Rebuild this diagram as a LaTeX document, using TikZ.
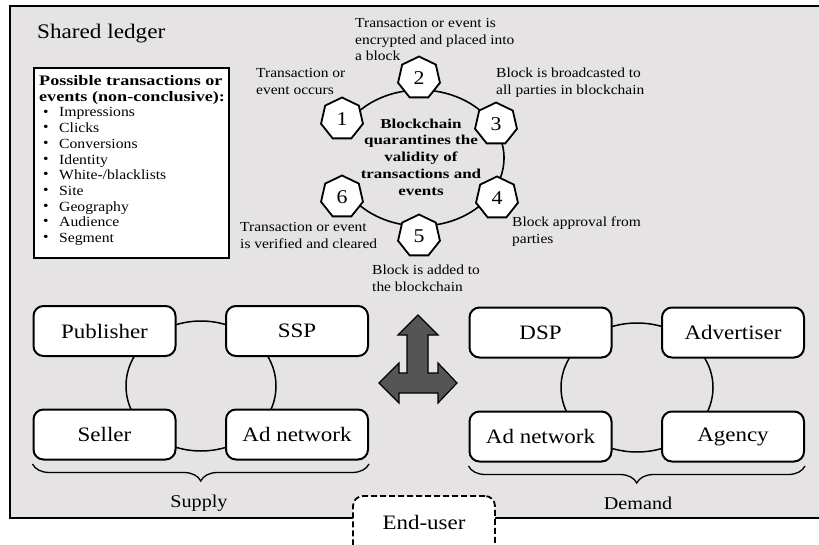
\documentclass[tikz,border=0pt]{standalone}
\usepackage{fontspec}
\setmainfont{Liberation Serif}[FakeStretch=1.12]
\newfontfamily\boldwide{Liberation Serif}[FakeStretch=1.25]
\usetikzlibrary{shapes.geometric,decorations.pathreplacing}

\definecolor{ledgergray}{HTML}{E5E3E4}
\definecolor{arrowgray}{HTML}{555555}

\tikzset{
  party/.style={draw=black, line width=2pt, fill=white, rounded corners=10pt,
    minimum width=142pt, minimum height=50pt, inner sep=0pt,
    font=\fontsize{20.5}{24}\selectfont},
  hepta/.style={draw=black, line width=1.8pt, fill=white, regular polygon,
    regular polygon sides=7, minimum size=43pt, inner sep=0pt,
    font=\fontsize{19.5}{22}\selectfont},
  steptext/.style={anchor=north west, align=left, inner sep=0pt,
    font=\fontsize{13.8}{16.7}\selectfont},
  listtext/.style={anchor=north west, align=left, inner sep=0pt,
    font=\fontsize{14}{15.7}\selectfont},
  ring/.style={line width=1.6pt},
  brace/.style={decorate, decoration={brace, mirror, amplitude=17pt}, line width=1.3pt},
}

\begin{document}
\begin{tikzpicture}[x=1pt, y=-1pt]
\useasboundingbox (0,0) rectangle (819,545);
\clip (0,0) rectangle (819,545);

% shared ledger frame
\draw[fill=ledgergray, line width=2.2pt] (10,6) rectangle (840,518);
\node[anchor=base west, inner sep=0pt, font=\fontsize{20.7}{24}\selectfont]
  (title) at (37,39) {Shared ledger};

% list of possible transactions
\node[draw=black, line width=2pt, fill=white, minimum width=195pt, minimum height=190pt,
  inner sep=0pt] (listbox) at (131.5,163) {};
\node[anchor=base west, inner sep=0pt, font=\boldwide\bfseries\fontsize{14.5}{16}\selectfont]
  (head1) at (39,86) {Possible transactions or};
\node[anchor=base west, inner sep=0pt, font=\boldwide\bfseries\fontsize{14.5}{16}\selectfont]
  (head2) at (39,101.7) {events (non-conclusive):};
\node[listtext] (dots) at (43,109.5)
  {\textbullet\\\textbullet\\\textbullet\\\textbullet\\\textbullet\\\textbullet\\\textbullet\\\textbullet\\\textbullet};
\node[listtext] (items) at (59,107.5)
  {Impressions\\Clicks\\Conversions\\Identity\\White-/blacklists\\Site\\Geography\\Audience\\Segment};

% blockchain ring (open between steps 1 and 6)
\draw[ring] (420,158) ++(211.6:84 and 68) arc[start angle=211.6, end angle=508.4,
  x radius=84, y radius=68];

\node[hepta] (s1) at (342,119) {1};
\node[hepta] (s2) at (419,78) {2};
\node[hepta] (s3) at (496,124) {3};
\node[hepta] (s4) at (497,198) {4};
\node[hepta] (s5) at (419,236) {5};
\node[hepta] (s6) at (342,197) {6};

\node[align=center, inner sep=0pt, font=\boldwide\bfseries\fontsize{13.6}{16.7}\selectfont]
  (core) at (421,157) {Blockchain\\quarantines the\\validity of\\transactions and\\events};

\node[steptext] (t1) at (256,68) {Transaction or\\event occurs};
\node[steptext] (t2) at (355,18) {Transaction or event is\\encrypted and placed into\\a block};
\node[steptext] (t3) at (496,68) {Block is broadcasted to\\all parties in blockchain};
\node[steptext] (t4) at (512,217) {Block approval from\\parties};
\node[steptext] (t5) at (372,265) {Block is added to\\the blockchain};
\node[steptext] (t6) at (240,222) {Transaction or event\\is verified and cleared};

% supply side
\draw[line width=1.5pt] (201,386) ellipse[x radius=75, y radius=65];
\node[party] (pub) at (104.5,331) {Publisher};
\node[party] (ssp) at (297,331) {SSP};
\node[party] (sell) at (104.5,434.5) {Seller};
\node[party] (adn1) at (297,434.5) {Ad network};
\draw[brace] (pub.west |- 0,464) coordinate (b1a) -- (adn1.east |- 0,464) coordinate (b1b);
\node[font=\fontsize{18}{20}\selectfont, inner sep=0pt] (supply) at (199,503) {Supply};

% demand side
\draw[line width=1.5pt] (637,387.5) ellipse[x radius=76, y radius=64.5];
\node[party] (dsp) at (540.5,332.5) {DSP};
\node[party] (adv) at (733,332.5) {Advertiser};
\node[party] (adn2) at (540.5,436.5) {Ad network};
\node[party] (agency) at (733,436.5) {Agency};
\draw[brace] (adn2.west |- 0,466) coordinate (b2a) -- (agency.east |- 0,466) coordinate (b2b);
\node[font=\fontsize{18}{20}\selectfont, inner sep=0pt] (demand) at (638,503) {Demand};

% exchange arrow between supply and demand
\draw[fill=arrowgray, line width=1.2pt, line join=miter]
  (418,315) -- (398,335) -- (407,335) -- (407,373) -- (399,373) -- (399,363)
  -- (379,383) -- (399,403) -- (399,393) -- (438,393) -- (438,403) -- (457,383)
  -- (438,363) -- (438,373) -- (428,373) -- (428,335) -- (438,335) -- cycle;

% end-user outside the ledger
\node[draw=black, dashed, dash pattern=on 6pt off 3pt, line width=1.8pt, fill=white,
  rounded corners=10pt, minimum width=142pt, minimum height=64pt, inner sep=0pt]
  (enduser) at (424,528) {};
\node[inner sep=0pt, font=\fontsize{20.5}{24}\selectfont] (endlabel) at (424,522) {End-user};
\end{tikzpicture}
\end{document}
